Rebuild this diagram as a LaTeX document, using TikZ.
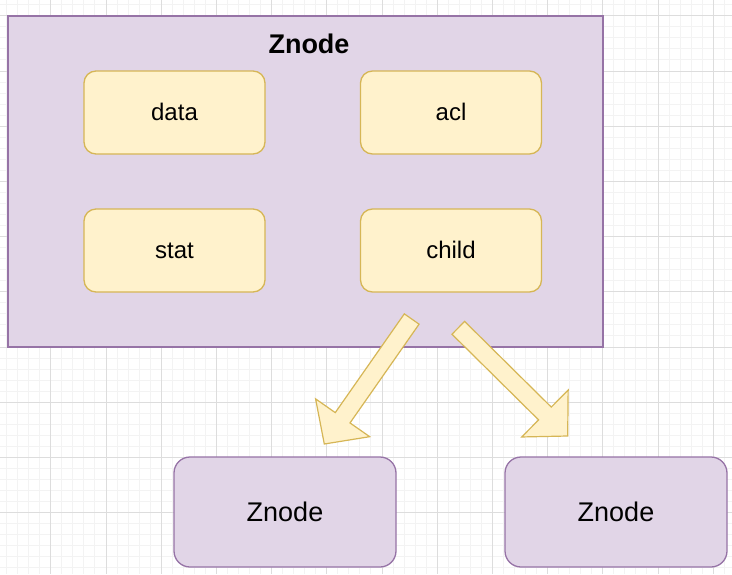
\documentclass[tikz,border=0pt]{standalone}
\usepackage{fontspec}
\setmainfont{Liberation Sans}
\usetikzlibrary{calc}
\definecolor{purfill}{HTML}{E1D5E7}
\definecolor{purline}{HTML}{9673A6}
\definecolor{yelfill}{HTML}{FFF2CC}
\definecolor{yelline}{HTML}{D6B656}
\definecolor{gridminor}{HTML}{F3F3F3}
\definecolor{gridmajor}{HTML}{DDDDDD}
\newcommand{\blockarrow}[2]{%
  \coordinate (#1-b) at ($(#2)!32pt!(#1)$);
  \path[arrowbody] ($(#1)!9pt!90:(#2)$) -- ($(#1-b)!9pt!90:(#2)$) -- ($(#1-b)!33pt!90:(#2)$)
    -- (#2) -- ($(#1-b)!33pt!-90:(#2)$) -- ($(#1-b)!9pt!-90:(#2)$) -- ($(#1)!9pt!-90:(#2)$) -- cycle;}
\tikzset{
  container/.style={draw=purline, fill=purfill, line width=1.3pt, inner sep=0pt},
  field/.style={draw=yelline, fill=yelfill, line width=1.3pt, rounded corners=12pt,
    minimum width=181pt, minimum height=83pt, inner sep=0pt,
    font=\fontsize{24}{28}\selectfont, text height=16.5pt, text depth=0pt},
  child znode/.style={draw=purline, fill=purfill, line width=1.3pt, rounded corners=16pt,
    minimum width=222pt, minimum height=110pt, inner sep=0pt,
    font=\fontsize{27}{32}\selectfont, text height=19.4pt, text depth=0pt},
  title/.style={font=\fontsize{27}{32}\selectfont\bfseries, inner sep=0pt, anchor=base},
  arrowbody/.style={draw=yelline, fill=yelfill, line width=1.2pt, line join=miter},
}
\begin{document}
\begin{tikzpicture}[x=1pt, y=-1pt]
  \useasboundingbox (0,0) rectangle (732,574);
  \fill[white] (0,0) rectangle (732,574);
  \begin{scope}
    \clip (0,0) rectangle (732,574);
    \foreach \i in {0,...,67} {
      \draw[gridminor, line width=0.8pt] ({-4.5+11.04*\i},0) -- ({-4.5+11.04*\i},574);
    }
    \foreach \i in {0,...,53} {
      \draw[gridminor, line width=0.8pt] (0,{-6.38+11.04*\i}) -- (732,{-6.38+11.04*\i});
    }
    \foreach \i in {0,...,13} {
      \draw[gridmajor, line width=0.8pt] ({-4.5+55.2*\i},0) -- ({-4.5+55.2*\i},574);
    }
    \foreach \i in {0,...,10} {
      \draw[gridmajor, line width=0.8pt] (0,{-39.5+55.2*\i}) -- (732,{-39.5+55.2*\i});
    }
  \end{scope}
  % container
  \node[container, minimum width=595pt, minimum height=331pt] (zn) at (305.5,181.5) {};
  \node[title] (zntitle) at (309,53.3) {Znode};
  % fields
  \node[field] (data) at (174.5,112.5) {data};
  \node[field] (acl) at (451,112.5) {acl};
  \node[field] (stat) at (174.5,250.5) {stat};
  \node[field] (child) at (451,250.5) {child};
  % child znodes
  \node[child znode] (zl) at (285,512) {Znode};
  \node[child znode] (zr) at (616,512) {Znode};
  % block arrows
  \coordinate (t1) at (411.7,319);
  \coordinate (h1) at (324.3,444);
  \coordinate (t2) at (458.3,327.8);
  \coordinate (h2) at (567.7,436);
  \blockarrow{t1}{h1}
  \blockarrow{t2}{h2}
\end{tikzpicture}
\end{document}
